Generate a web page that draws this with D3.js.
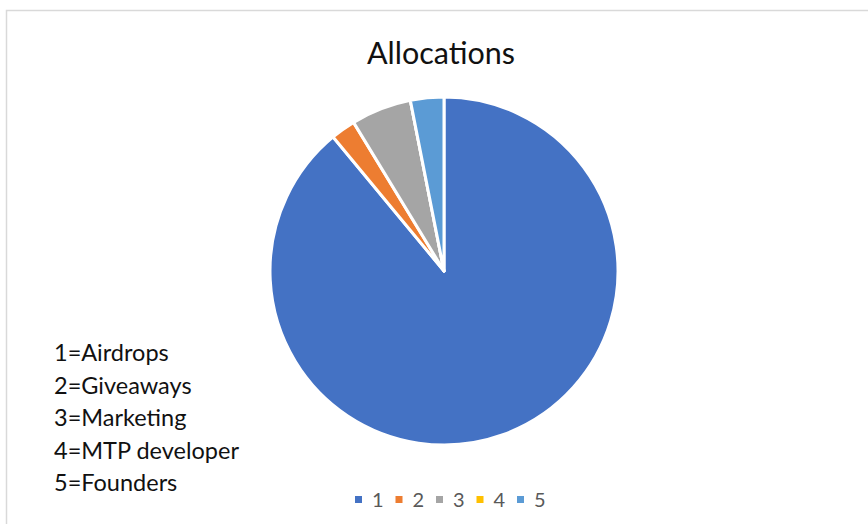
<!DOCTYPE html>
<html>
<head>
<meta charset="utf-8">
<script src="https://cdn.jsdelivr.net/npm/d3@7"></script>
<style>
  html, body { margin: 0; padding: 0; background: #fff; }
  svg { display: block; }
</style>
</head>
<body>
<svg id="chart" width="868" height="524"></svg>
<script>
const categories = ["1", "2", "3", "4", "5"];
const values = [89.0, 2.3, 5.6, 0, 3.1];
const colors = ["#4472C4", "#ED7D31", "#A5A5A5", "#FFC000", "#5B9BD5"];
const notes = ["1=Airdrops", "2=Giveaways", "3=Marketing", "4=MTP developer", "5=Founders"];
const title = "Allocations";

const svg = d3.select("#chart");
const FONT = "Lato, 'Open Sans', 'Liberation Sans', sans-serif";

// chart area border
svg.append("rect")
  .attr("x", 6.5).attr("y", 10.5)
  .attr("width", 900).attr("height", 600)
  .attr("fill", "#fff").attr("stroke", "#d9d9d9").attr("stroke-width", 1.5);

// title
svg.append("text")
  .attr("x", 441).attr("y", 64)
  .attr("text-anchor", "middle")
  .attr("font-family", FONT).attr("font-size", 30.5)
  .attr("fill", "#111")
  .text(title);

// pie
const cx = 444, cy = 271, r = 174;
const data = categories.map((c, i) => ({ cat: c, value: values[i], color: colors[i] }));
const pie = d3.pie().sort(null).value(d => d.value).startAngle(0).endAngle(2 * Math.PI);
const arc = d3.arc().innerRadius(0).outerRadius(r);
const g = svg.append("g").attr("transform", `translate(${cx},${cy})`);
g.selectAll("path")
  .data(pie(data))
  .join("path")
  .attr("d", arc)
  .attr("fill", d => d.data.color)
  .attr("stroke", "#fff")
  .attr("stroke-width", 3)
  .attr("stroke-linejoin", "round");

// notes text on left
const noteY = d3.scalePoint().domain(notes).range([361, 491]);
svg.append("g").selectAll("text")
  .data(notes)
  .join("text")
  .attr("x", 54)
  .attr("y", d => noteY(d))
  .attr("font-family", FONT).attr("font-size", 23.5)
  .attr("fill", "#111")
  .text(d => d);

// legend
const legX = d3.scalePoint().domain(categories).range([355, 517]);
const leg = svg.append("g").selectAll("g")
  .data(data)
  .join("g")
  .attr("transform", d => `translate(${legX(d.cat)},496)`);
leg.append("rect")
  .attr("width", 7).attr("height", 7)
  .attr("fill", d => d.color);
leg.append("text")
  .attr("x", 17).attr("y", 10.5)
  .attr("font-family", FONT).attr("font-size", 20)
  .attr("fill", "#595959")
  .text(d => d.cat);
</script>
</body>
</html>
